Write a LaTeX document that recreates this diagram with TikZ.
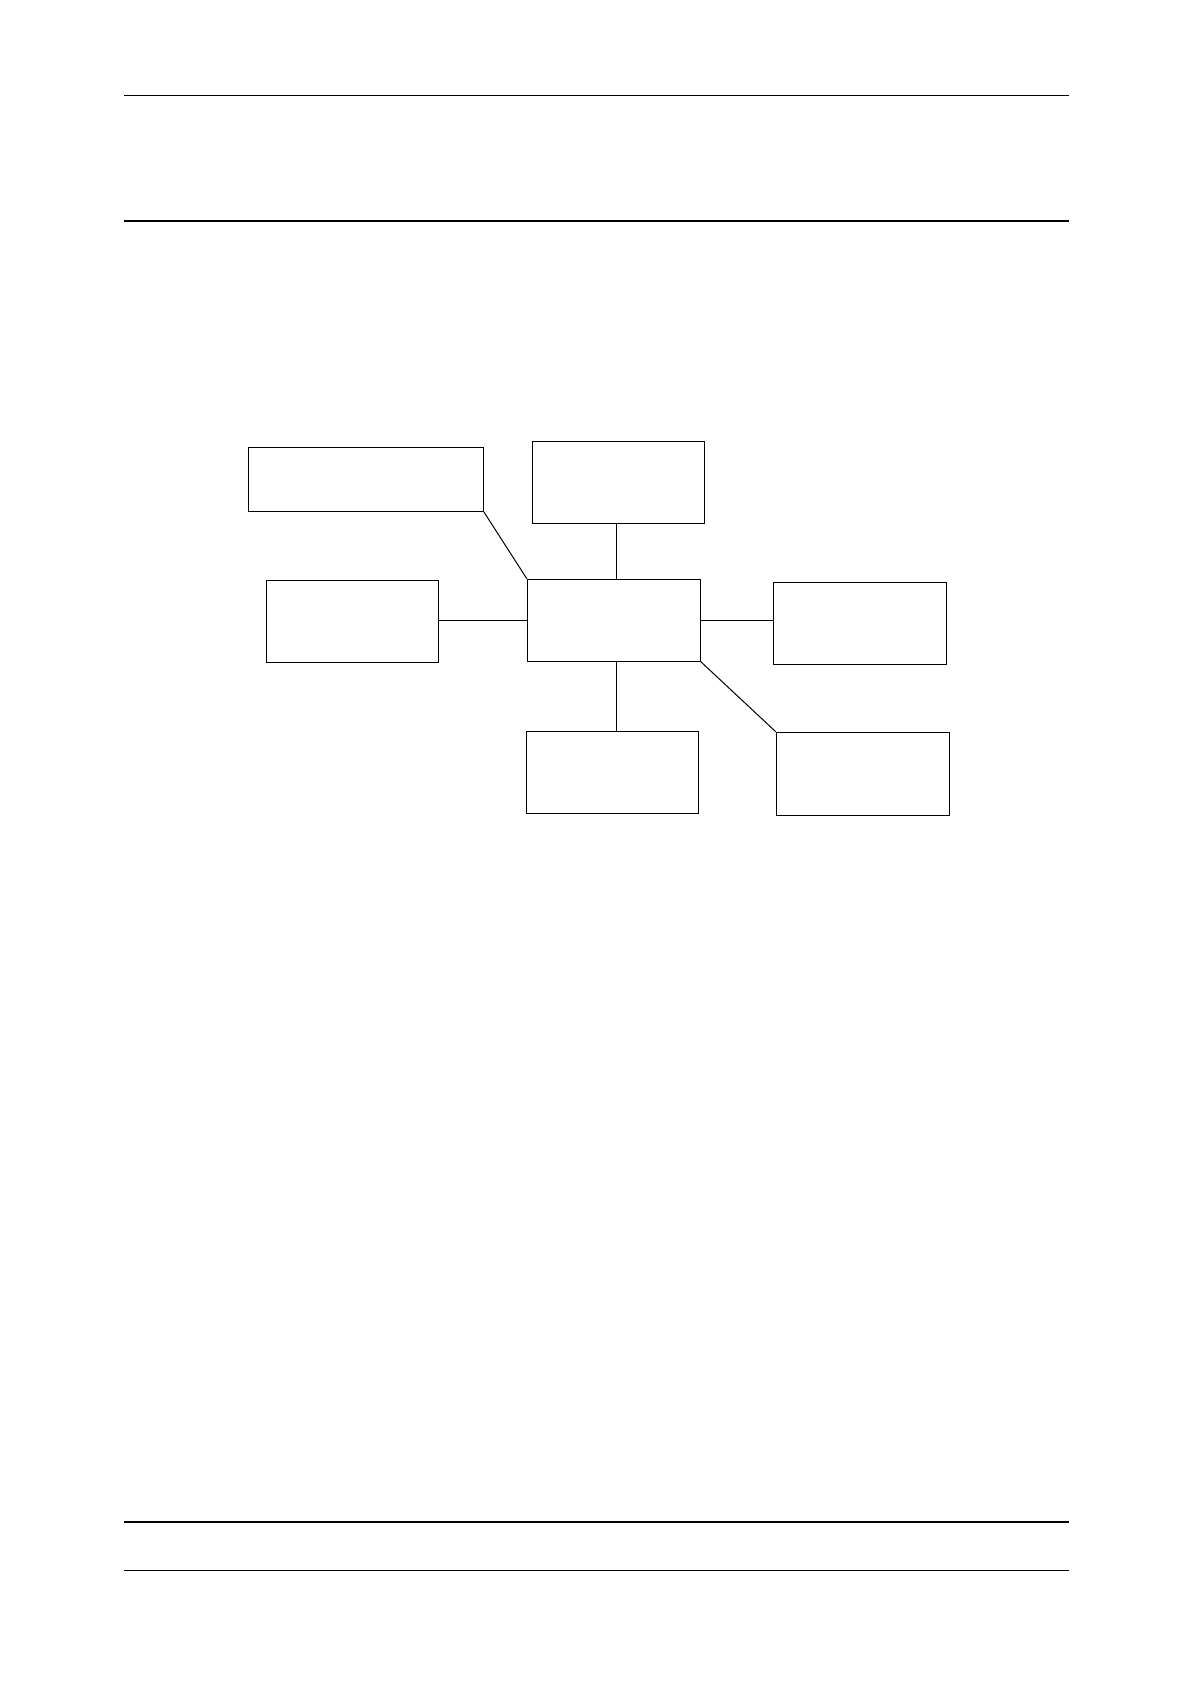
\documentclass[tikz,border=0pt]{standalone}
\begin{document}
\begin{tikzpicture}[x=0.5pt,y=-0.5pt]
\useasboundingbox (0,0) rectangle (1190,1684);
\draw[line width=.5pt] (124,96) -- (1069,96);
\draw[line width=1pt] (124,221) -- (1069,221);
\draw[line width=1pt] (124,1521.7) -- (1069,1521.7);
\draw[line width=.5pt] (124,1570.3) -- (1069,1570.3);
\node[draw, line width=.5pt, inner sep=0, minimum width=117.5pt, minimum height=32pt] (bxA) at (365.8,479.3){};
\node[draw, line width=.5pt, inner sep=0, minimum width=86pt, minimum height=41pt] (bxB) at (618.3,482.3){};
\node[draw, line width=.5pt, inner sep=0, minimum width=86.5pt, minimum height=41pt] (bxC) at (613.8,620.2){};
\node[draw, line width=.5pt, inner sep=0, minimum width=86pt, minimum height=41pt] (bxD) at (352.3,621.2){};
\node[draw, line width=.5pt, inner sep=0, minimum width=86.5pt, minimum height=41pt] (bxE) at (859.8,623.3){};
\node[draw, line width=.5pt, inner sep=0, minimum width=86pt, minimum height=41pt] (bxF) at (612.3,772.3){};
\node[draw, line width=.5pt, inner sep=0, minimum width=86.5pt, minimum height=41.5pt] (bxG) at (862.8,773.8){};
\draw[line width=.5pt](bxA.south east) -- (bxC.north west);
\draw[line width=.5pt]([xshift=1.25pt]bxC.north) -- ([xshift=1.25pt]bxC.north |- bxB.south);
\draw[line width=.5pt](bxC.west) -- (bxC.west -| bxD.east);
\draw[line width=.5pt](bxC.east) -- (bxC.east -| bxE.west);
\draw[line width=.5pt]([xshift=1.25pt]bxC.south) -- ([xshift=1.25pt]bxC.south |- bxF.north);
\draw[line width=.5pt](bxC.south east) -- (bxG.north west);
\end{tikzpicture}
\end{document}
